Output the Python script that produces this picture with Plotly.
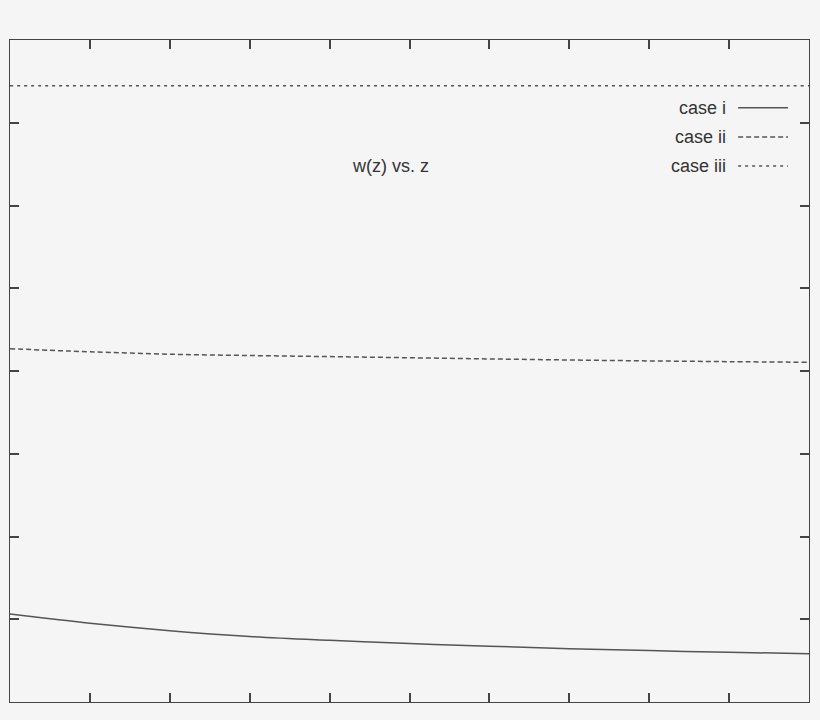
import plotly.graph_objects as go

# values (axis units: x 0..10, y 0..8)
z_values = [0, 0.5, 1, 2, 3, 4, 5, 6, 7, 8, 9, 10]
case_i = [1.063, 1.005, 0.951, 0.862, 0.793, 0.746, 0.706, 0.674, 0.645, 0.621, 0.601, 0.584]
case_ii = [4.270, 4.250, 4.232, 4.203, 4.187, 4.174, 4.160, 4.146, 4.133, 4.122, 4.113, 4.105]
case_iii = [7.448] * len(z_values)

series_names = ["case i", "case ii", "case iii"]
series_dash = ["solid", "5px,3px", "3px,4px"]

line_col = "#555555"
text_col = "#333333"
bg = "#f5f5f5"

fig = go.Figure()
for name, ys, dash in zip(series_names, [case_i, case_ii, case_iii], series_dash):
    fig.add_trace(
        go.Scatter(
            x=z_values,
            y=ys,
            mode="lines",
            name=name,
            line=dict(color=line_col, width=1.5, dash=dash, shape="spline"),
            showlegend=False,
        )
    )

# gnuplot-style key: text on the left, line sample on the right
key_y = [0.8975, 0.8535, 0.8097]
for name, dash, ky in zip(series_names, series_dash, key_y):
    fig.add_annotation(
        x=0.8988, y=ky, xref="paper", yref="paper",
        text=name, showarrow=False, xanchor="right", yanchor="middle",
        font=dict(size=18, color=text_col),
    )
    fig.add_shape(
        type="line", xref="paper", yref="paper",
        x0=0.9113, x1=0.9737, y0=ky, y1=ky,
        line=dict(color=line_col, width=1.5, dash=dash),
    )

fig.add_annotation(
    x=0.476, y=0.8097, xref="paper", yref="paper",
    text="w(z) vs. z", showarrow=False, xanchor="center", yanchor="middle",
    font=dict(size=18, color=text_col),
)

axis_style = dict(
    showgrid=False,
    zeroline=False,
    showline=True,
    linecolor="#444444",
    linewidth=1.2,
    mirror="ticks",
    ticks="inside",
    ticklen=9,
    tickwidth=1.5,
    tickcolor="#444444",
    showticklabels=False,
)

fig.update_xaxes(range=[0, 10], dtick=1, tick0=0, **axis_style)
fig.update_yaxes(range=[0, 8], dtick=1, tick0=0, **axis_style)

fig.update_layout(
    width=820,
    height=720,
    margin=dict(l=10, r=11, t=40, b=18),
    paper_bgcolor=bg,
    plot_bgcolor=bg,
    font=dict(family="Liberation Sans, Arial, sans-serif", color=text_col),
)

# drop the browser's default page margin so the figure sits at the corner
fig.write_html(
    "out.html",
    config={"displayModeBar": False},
    post_script="document.body.style.margin='0';document.body.style.background='#f5f5f5';",
)
